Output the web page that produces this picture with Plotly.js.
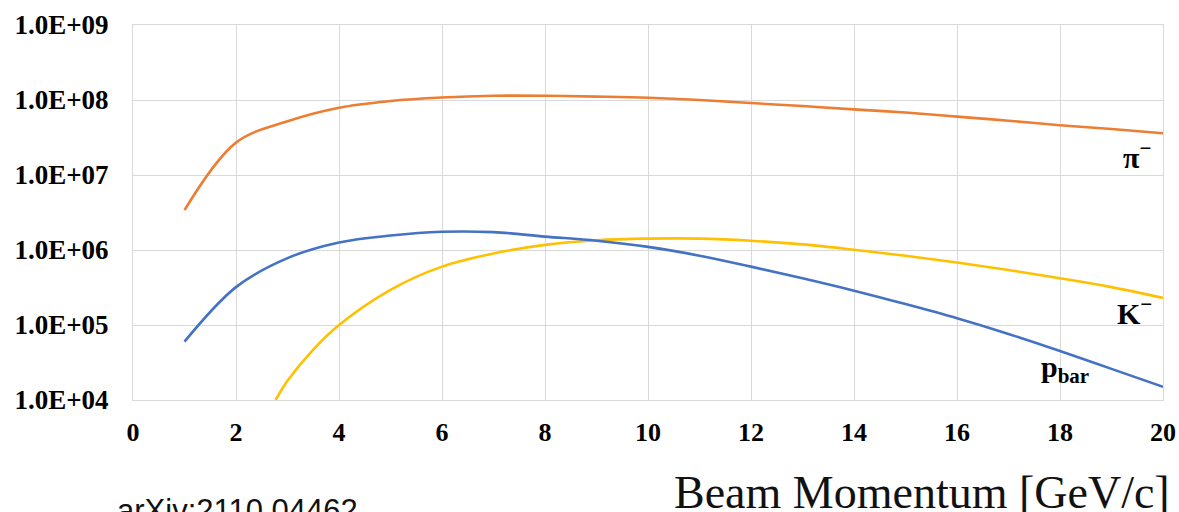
<!DOCTYPE html>
<html>
<head>
<meta charset="utf-8">
<script src="https://cdn.plot.ly/plotly-3.0.1.min.js"></script>
<style>html,body{margin:0;padding:0;background:#fff;}#chart{width:1179px;height:512px;}</style>
</head>
<body>
<div id="chart"></div>
<script>
// Beam momentum [GeV/c]
const piMomentum = [1, 2, 3, 4, 5, 6, 7, 8, 9, 10, 11, 12, 13, 14, 15, 16, 17, 18, 19, 20];
const piYield = [3.4e6, 2.7e7, 5.2e7, 7.9e7, 9.7e7, 1.08e8, 1.14e8, 1.14e8, 1.11e8, 1.07e8, 1.0e8, 9.1e7, 8.3e7, 7.5e7, 6.8e7, 6.0e7, 5.3e7, 4.6e7, 4.1e7, 3.6e7];

const pbarMomentum = [1, 2, 3, 4, 5, 6, 7, 8, 9, 10, 11, 12, 13, 14, 15, 16, 17, 18, 19, 20];
const pbarYield = [6.0e4, 3.2e5, 7.8e5, 1.26e6, 1.56e6, 1.75e6, 1.73e6, 1.51e6, 1.33e6, 1.1e6, 8.4e5, 6.0e5, 4.2e5, 2.87e5, 1.9e5, 1.23e5, 7.6e4, 4.5e4, 2.6e4, 1.5e4];

const kMomentum = [2.77, 3, 3.5, 4, 5, 6, 7, 8, 9, 10, 11, 12, 13, 14, 15, 16, 17, 18, 19, 20];
const kYield = [1.0e4, 1.8e4, 4.7e4, 1.0e5, 2.95e5, 6.0e5, 9.0e5, 1.17e6, 1.35e6, 1.42e6, 1.42e6, 1.33e6, 1.19e6, 1.01e6, 8.4e5, 6.8e5, 5.4e5, 4.2e5, 3.2e5, 2.3e5];

const xTickVals = [0, 2, 4, 6, 8, 10, 12, 14, 16, 18, 20];
const xTickText = ['0', '2', '4', '6', '8', '10', '12', '14', '16', '18', '20'];
const yTickVals = [1e4, 1e5, 1e6, 1e7, 1e8, 1e9];
const yTickText = ['1.0E+04', '1.0E+05', '1.0E+06', '1.0E+07', '1.0E+08', '1.0E+09'];

const seriesLabels = ['π<sup>−</sup>', 'K<sup>−</sup>', 'p<sub>bar</sub>'];
const xTitle = 'Beam Momentum [GeV/c]';
const sourceNote = 'arXiv:2110.04462';

const lineStyle = (c) => ({color: c, width: 2.6, shape: 'spline', smoothing: 1});

const traces = [
  {x: piMomentum, y: piYield, mode: 'lines', line: lineStyle('#ED7D31'), name: 'pi-'},
  {x: kMomentum, y: kYield, mode: 'lines', line: lineStyle('#FFC000'), name: 'K-'},
  {x: pbarMomentum, y: pbarYield, mode: 'lines', line: lineStyle('#4472C4'), name: 'pbar'}
];

const labelFont = {family: 'Liberation Serif', size: 30, color: '#000', weight: 'bold'};

const layout = {
  width: 1179, height: 512,
  margin: {l: 133, r: 16, t: 25, b: 112},
  paper_bgcolor: '#fff', plot_bgcolor: '#fff',
  showlegend: false,
  xaxis: {
    range: [0, 20], tickvals: xTickVals, ticktext: xTickText,
    showgrid: true, gridcolor: '#d9d9d9', gridwidth: 1,
    zeroline: false, showline: true, linecolor: '#d9d9d9', mirror: true,
    ticks: '', ticklabelstandoff: 9,
    tickfont: {family: 'Liberation Serif', size: 26, color: '#000', weight: 'bold'}
  },
  yaxis: {
    type: 'log', range: [4, 9], tickvals: yTickVals, ticktext: yTickText,
    showgrid: true, gridcolor: '#d9d9d9', gridwidth: 1,
    zeroline: false, showline: true, linecolor: '#d9d9d9', mirror: true,
    ticks: '', ticklabelstandoff: 18,
    tickfont: {family: 'Liberation Serif', size: 27, color: '#000', weight: 'bold'}
  },
  annotations: [
    {x: 19.5, y: 7.267, xref: 'x', yref: 'y', text: seriesLabels[0], showarrow: false, font: labelFont, xanchor: 'center', yanchor: 'middle'},
    {x: 19.45, y: 5.19, xref: 'x', yref: 'y', text: seriesLabels[1], showarrow: false, font: labelFont, xanchor: 'center', yanchor: 'middle'},
    {x: 18.1, y: 4.42, xref: 'x', yref: 'y', text: seriesLabels[2], showarrow: false, font: labelFont, xanchor: 'center', yanchor: 'middle'},
    {x: 1.0085, y: -0.172, xref: 'paper', yref: 'paper', text: xTitle, showarrow: false, xanchor: 'right', yanchor: 'top',
     font: {family: 'Liberation Serif', size: 46, color: '#111'}},
    {x: -0.017, y: -0.243, xref: 'paper', yref: 'paper', text: sourceNote, showarrow: false, xanchor: 'left', yanchor: 'top',
     font: {family: 'Liberation Sans', size: 31, color: '#111'}}
  ]
};

Plotly.newPlot('chart', traces, layout, {displayModeBar: false, staticPlot: true});
</script>
</body>
</html>
